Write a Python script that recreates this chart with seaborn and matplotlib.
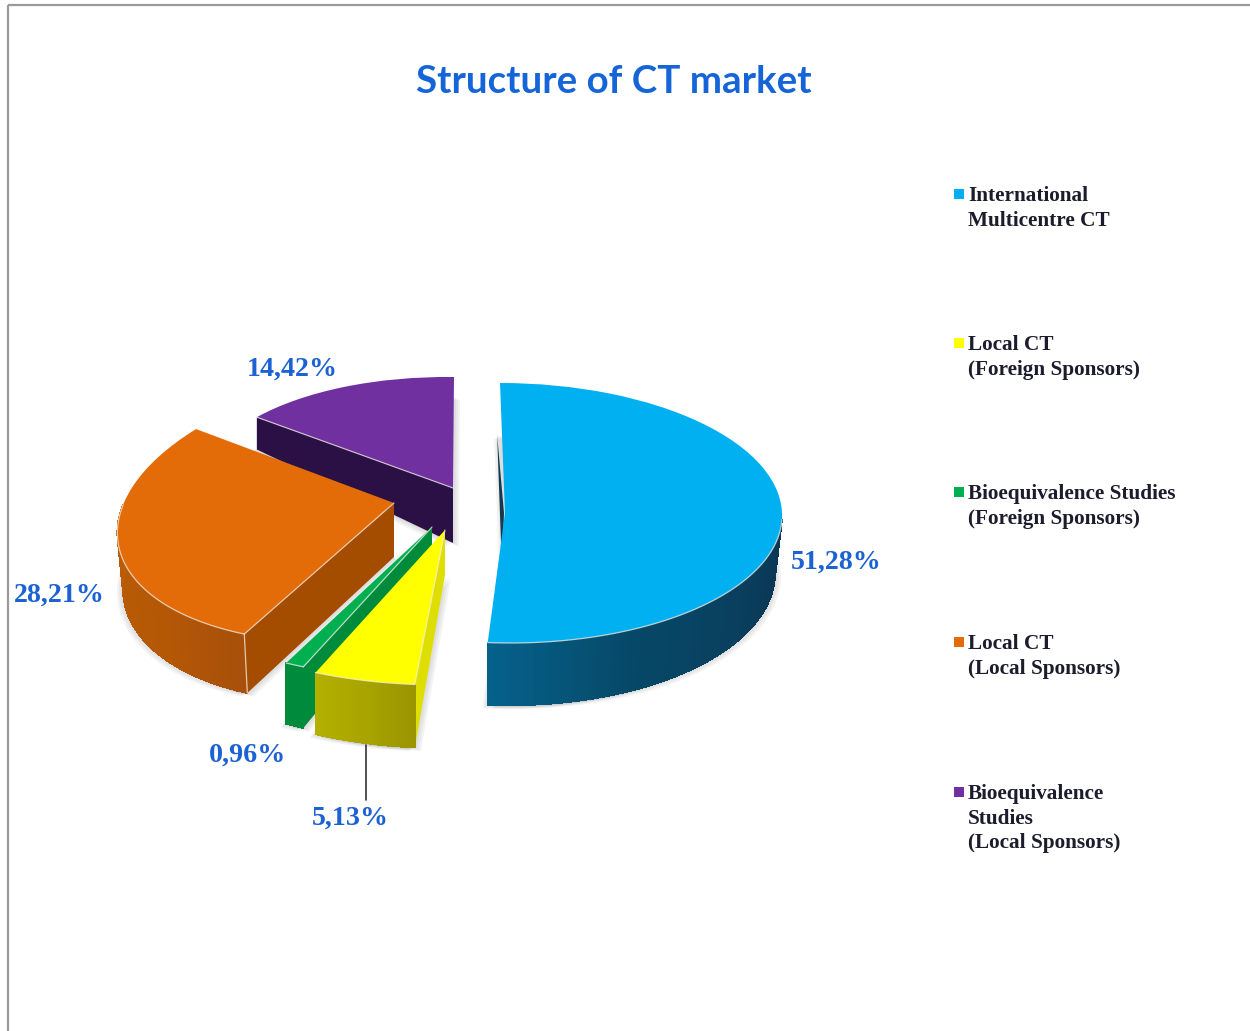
"""
Structure of CT market: exploded pseudo-3D pie.
The top faces come from ax.pie, each squashed with its own affine so the
perspective of the original is kept. Walls are built from the same angles.
"""
import numpy as np
import matplotlib
matplotlib.use("Agg")
import matplotlib.pyplot as plt
from matplotlib.collections import PolyCollection
from matplotlib.transforms import Affine2D
import seaborn as sns

labels = [
    "International\nMulticentre CT",
    "Local CT\n(Foreign Sponsors)",
    "Bioequivalence Studies\n(Foreign Sponsors)",
    "Local CT\n(Local Sponsors)",
    "Bioequivalence\nStudies\n(Local Sponsors)",
]
values = [51.28, 5.13, 0.96, 28.21, 14.42]
value_texts = ["51,28%", "5,13%", "0,96%", "28,21%", "14,42%"]
colors = ["#00b0f0", "#ffff00", "#00b050", "#e36c09", "#7030a0"]

# (u coeff x, v coeff x, apex x, u coeff y, v coeff y, apex y), depth, sx, sy
GEOM = [
    ((277, -5, 505, 0, -130, 513), 57, 0.975, 1.04),
    ((320, 4.4, 445, 0, -155, 530), 45, 1.0, 1.116),
    ((317, 4.8, 432, 0, -152, 527), 45, 1.0, 1.116),
    ((275, 30, 394, -15, -139, 503), 54, 0.98, 1.038),
    ((250, 1, 453, 3, -111, 488), 55, 1.0, 1.32),
]
WALLS = [
    ["#0a3552", "#0a3f5e", "#064868", "#05618a"],
    ["#9a9400", "#a8a400", "#b4b000"],
    ["#008a3c", "#008a3c"],
    ["#a8500a", "#b45806", "#b85a05", "#bc5e08"],
    None,
]
CUTS = ["#123a50", "#dede00", "#008a3c", "#a44c00", "#2a1045"]
DRAW_ORDER = [4, 3, 2, 1, 0]
LABEL_POS = [(836, 562), (350, 818), (248, 755), (59, 595), (292, 369)]
LEGEND_Y = [195, 344, 493, 643, 793]
TEXT_BLUE = "#1c62d2"

sns.set_theme(style="white")
plt.rcParams["font.family"] = ["Liberation Serif", "DejaVu Sans"]

fig = plt.figure(figsize=(12.5, 10.31), dpi=100, facecolor="white")
ax = fig.add_axes([0, 0, 1, 1])

wedges, _ = ax.pie(values, colors=colors, startangle=90, counterclock=False,
                   wedgeprops={"linewidth": 0})
ax.set_aspect("auto")
ax.set_xlim(0, 1250)
ax.set_ylim(1031, 0)
ax.axis("off")


def top_xy(mat, t):
    r = np.radians(t)
    u, v = np.cos(r), np.sin(r)
    return mat[0] * u + mat[1] * v + mat[2], mat[3] * u + mat[4] * v + mat[5]


def bottom_xy(geom, x, y):
    mat, depth, sx, sy = geom
    return mat[2] + sx * (x - mat[2]), mat[5] + depth + sy * (y - mat[5])


# start angles running clockwise from 12 o'clock
ends = 90 - np.cumsum(values) * 3.6
starts = ends + np.array(values) * 3.6

for order, i in enumerate(DRAW_ORDER):
    geom = GEOM[i]
    mat = geom[0]
    z = 10 + order * 10
    t0, t1 = starts[i], ends[i]
    ts = np.linspace(t0, t1, 160)
    x, y = top_xy(mat, ts)
    bx, by = bottom_xy(geom, x, y)
    apex = (mat[2], mat[5])
    bapex = bottom_xy(geom, *apex)

    # soft shadow round the bottom face
    sx_poly = np.r_[bapex[0], bx]
    sy_poly = np.r_[bapex[1], by]
    for d in (6, 4, 2):
        for sign in (-1, 1):
            ax.fill(sx_poly + sign * d, sy_poly + d * 0.6, color="#808080",
                    alpha=0.09, lw=0, zorder=z)

    # radial cut face on the first edge of the slice
    tx, ty = top_xy(mat, t0)
    qx, qy = bottom_xy(geom, tx, ty)
    if i == 0:
        ax.fill([qx - 3, apex[0] - 1, bapex[0] - 3], [qy, apex[1], bapex[1]],
                color=CUTS[i], lw=0, zorder=z + 1)
    else:
        ax.fill([apex[0], tx, qx, bapex[0]], [apex[1], ty, qy, bapex[1]],
                color=CUTS[i], lw=0, zorder=z + 1)

    # outer wall, only where the rim faces the viewer
    if WALLS[i] is not None:
        keep = (ts <= -2) & (ts >= -186)
        wx, wy, wbx, wby = x[keep], y[keep], bx[keep], by[keep]
        n = len(wx) - 1
        palette = sns.blend_palette(WALLS[i], n)
        quads = [[(wx[k], wy[k]), (wx[k + 1], wy[k + 1]),
                  (wbx[k + 1], wby[k + 1]), (wbx[k], wby[k])] for k in range(n)]
        ax.add_collection(PolyCollection(quads, facecolors=palette,
                                         edgecolors=palette, linewidths=0.6,
                                         antialiaseds=False, zorder=z + 2))
        ax.plot(wx, wy, color="#f4efe6", lw=0.9, alpha=0.75, zorder=z + 4)

    wedges[i].set_transform(Affine2D.from_values(mat[0], mat[3], mat[1], mat[4],
                                                 mat[2], mat[5]) + ax.transData)
    wedges[i].set_zorder(z + 3)

    if i != 0:
        ax.plot([apex[0], tx], [apex[1], ty], color="#f4efe6", lw=0.9, alpha=0.7,
                zorder=z + 4)
    if i == 3:
        ax.plot([tx, qx], [ty, qy], color="#f4e6d6", lw=0.9, alpha=0.8, zorder=z + 4)

# leader line of the small slice
ax.plot([366, 366], [745, 800], color="#333333", lw=1.2, zorder=80)

for text, (px, py) in zip(value_texts, LABEL_POS):
    ax.text(px, py, text, color=TEXT_BLUE, fontsize=20.2, fontweight="bold",
            ha="center", va="center", zorder=90)

ax.text(614, 82, "Structure of CT market", color="#1565d8", fontsize=27.7,
        fontweight="bold", family="Lato", ha="center", va="center")

for lab, color, ly in zip(labels, colors, LEGEND_Y):
    ax.scatter([958.5], [ly - 1], marker="s", s=42, color=color, linewidths=0)
    ax.text(968, ly - 9, lab, color="#1c1c2c", fontsize=15.3, fontweight="bold",
            ha="left", va="top", linespacing=1.31)

# frame of the pasted screenshot
ax.plot([8, 8], [1031, 5], color="#9a9a9a", lw=1.6, solid_capstyle="butt")
ax.plot([8, 1250], [5, 5], color="#9a9a9a", lw=1.6, solid_capstyle="butt")

fig.savefig("out.png", dpi=100, facecolor="white")
